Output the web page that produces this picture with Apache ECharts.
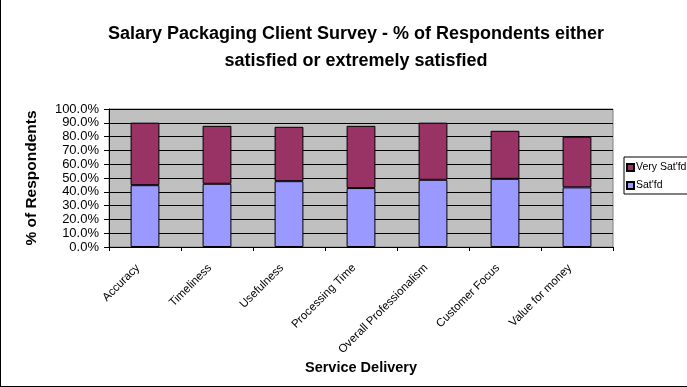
<!DOCTYPE html>
<html>
<head>
<meta charset="utf-8">
<script src="https://cdn.jsdelivr.net/npm/echarts@6/dist/echarts.min.js"></script>
<style>
html,body{margin:0;padding:0;background:#fff;}
#chart1{width:687px;height:387px;box-sizing:border-box;border-left:1px solid #000;border-bottom:1px solid #000;}
</style>
</head>
<body>
<div id="chart1"></div>
<script>
// 类目
var categories = ['Accuracy', 'Timeliness', 'Usefulness', 'Processing Time', 'Overall Professionalism', 'Customer Focus', 'Value for money'];
// Sat'fd 百分比
var satfd = [44.8, 45.8, 47.7, 42.7, 48.7, 49.4, 43.2];
// Very Sat'fd 百分比（叠加在上面）
var verySatfd = [45.3, 42.0, 39.4, 45.1, 41.4, 34.8, 36.7];

var myChart = {
	init:function(){
		var option = {
		    animation: false,
		    color:['#9999ff','#993366'],
		    title: {
		        text: 'Salary Packaging Client Survey - % of Respondents either\nsatisfied or extremely satisfied',
		        left: 350,
		        textAlign: 'center',
		        top: 16,
		        textStyle: {
		            fontFamily: 'Liberation Sans',
		            fontSize: 18,
		            fontWeight: 'bold',
		            color: '#000',
		            lineHeight: 27
		        }
		    },
		    legend: {
		        data: ["Very Sat'fd", "Sat'fd"],
		        orient: 'vertical',
		        left: 623,
		        top: 157,
		        itemWidth: 7,
		        itemHeight: 7,
		        itemGap: 7,
		        padding: [5, 8, 3, 2],
		        borderColor: '#000',
		        borderWidth: 1,
		        icon: 'rect',
		        textStyle: {
		            fontFamily: 'Liberation Sans',
		            fontSize: 10.5,
		            color: '#000',
		            padding: [0, 0, 0, -3]
		        }
		    },
		    grid: {
		        left: 108,
		        right: 74,
		        top: 109,
		        bottom: 139,
		        containLabel: false,
		        show: true,
		        backgroundColor: '#c0c0c0',
		        borderColor: '#808080',
		        borderWidth: 1
		    },
		    xAxis: {
		        type: 'category',
		        data: categories,
		        name: 'Service Delivery',
		        nameLocation: 'middle',
		        nameGap: 113,
		        nameTextStyle: {
		            fontFamily: 'Liberation Sans',
		            fontSize: 14.5,
		            fontWeight: 'bold',
		            color: '#000'
		        },
		        axisLine: {lineStyle: {color: '#000'}},
		        axisTick: {show: true, inside: false, length: 4, lineStyle: {color: '#000'}},
		        axisLabel: {
		            rotate: 45,
		            interval: 0,
		            margin: 12,
		            padding: [0, 10, 0, 0],
		            fontFamily: 'Liberation Sans',
		            fontSize: 11.5,
		            color: '#000'
		        }
		    },
		    yAxis: {
		        type: 'value',
		        min: 0,
		        max: 100,
		        interval: 10,
		        name: '% of Respondents',
		        nameLocation: 'middle',
		        nameGap: 69,
		        nameTextStyle: {
		            fontFamily: 'Liberation Sans',
		            fontSize: 15.5,
		            fontWeight: 'bold',
		            color: '#000'
		        },
		        axisLine: {show: true, lineStyle: {color: '#000'}},
		        axisTick: {show: true, length: 5, lineStyle: {color: '#000'}},
		        axisLabel: {
		            formatter: function(v){ return v.toFixed(1) + '%'; },
		            margin: 10,
		            fontFamily: 'Liberation Sans',
		            fontSize: 13,
		            lineHeight: 12,
		            color: '#000'
		        },
		        splitLine: {lineStyle: {color: '#000', width: 1}}
		    },
		    series: [
		        {
		            name: "Sat'fd",
		            type: 'bar',
		            stack: 'total',
		            barWidth: '40%',
		            data: satfd,
		            itemStyle: {color: '#9999ff', borderColor: '#000', borderWidth: 1}
		        },
		        {
		            name: "Very Sat'fd",
		            type: 'bar',
		            stack: 'total',
		            barWidth: '40%',
		            data: verySatfd,
		            itemStyle: {color: '#993366', borderColor: '#000', borderWidth: 1}
		        }
		    ]
		};
		var chart = echarts.init(document.getElementById('chart1'));
		chart.setOption(option);
		return chart;
	}
};

myChart.init();
</script>
</body>
</html>
